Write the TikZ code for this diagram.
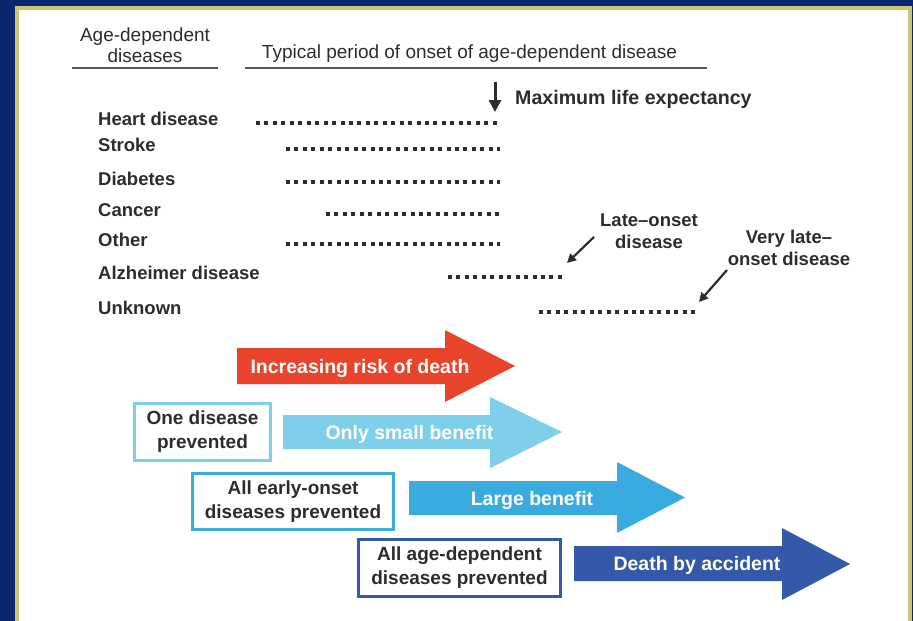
\documentclass[tikz,border=0pt]{standalone}
\usepackage{fontspec}
\setmainfont{Liberation Sans}
\usepackage{xcolor}
\usepackage{tikz}
\usetikzlibrary{arrows.meta,positioning,calc}
\definecolor{slidenavy}{RGB}{12,38,112}
\definecolor{slideframe}{RGB}{200,200,110}
\definecolor{riskred}{RGB}{232,67,43}
\definecolor{benlight}{RGB}{126,207,234}
\definecolor{benmid}{RGB}{58,171,223}
\definecolor{bendark}{RGB}{52,89,168}
\definecolor{txtgray}{RGB}{45,45,45}
\definecolor{rulegray}{RGB}{90,90,90}
\tikzset{
  dhead/.style={font=\fontsize{19}{21}\selectfont, text=txtgray, align=center, inner sep=0pt},
  dlabel/.style={font=\bfseries\fontsize{18.5}{22}\selectfont, text=txtgray, anchor=base west, inner sep=0pt},
  dnote/.style={font=\bfseries\fontsize{18.5}{22}\selectfont, text=txtgray, align=center, inner sep=0pt},
  dcase/.style={draw, line width=3pt, fill=white, align=center, inner sep=0pt, font=\bfseries\fontsize{19}{24}\selectfont, text=txtgray},
  dbandtext/.style={font=\bfseries\fontsize{19.5}{22}\selectfont, text=white, anchor=base, inner sep=0pt},
  donset/.style={draw=txtgray, line width=4pt, dash pattern=on 4pt off 4.45pt},
  drule/.style={draw=rulegray, line width=2.5pt},
  dpoint/.style={-{Triangle[length=9pt,width=9pt]}, draw=txtgray, line width=2.2pt},
  dmax/.style={-{Triangle[length=12pt,width=12pt]}, draw=txtgray, line width=3pt}
}
\begin{document}
\begin{tikzpicture}[x=1pt,y=-1pt]
% slide background and frame
\fill[slidenavy] (0,0) rectangle (913,621);
\fill[slideframe] (15,6) rectangle (912,621);
\fill[white] (19,10) rectangle (908,621);
\useasboundingbox (0,0) rectangle (913,621);

% headers
\node[dhead] (agehdr) at (145,45) {Age-dependent\\diseases};
\node[dhead, anchor=base] (onsethdr) at (469.5,58) {Typical period of onset of age-dependent disease};
\draw[drule] (72,68) -- (218,68);
\draw[drule] (245,68) -- (707,68);

% maximum life expectancy
\node[dnote, font=\bfseries\fontsize{19.6}{22}\selectfont, anchor=base west] (maxlife) at (515,104) {Maximum life expectancy};
\coordinate (maxtop) at (495,82);
\coordinate (maxtip) at (495,112);
\draw[dmax] (maxtop) -- (maxtip);

% diseases and their onset periods
\node[dlabel] (heart) at (98,125) {Heart disease};
\node[dlabel] (stroke) at (98,151.5) {Stroke};
\node[dlabel] (diabetes) at (98,185.5) {Diabetes};
\node[dlabel] (cancer) at (98,216) {Cancer};
\node[dlabel] (other) at (98,246) {Other};
\node[dlabel] (alzheimer) at (98,279) {Alzheimer disease};
\node[dlabel] (unknown) at (98,314) {Unknown};

\coordinate (heartA) at (256,123);      \coordinate (heartB) at (497,123);
\coordinate (strokeA) at (286,149);     \coordinate (strokeB) at (499.5,149);
\coordinate (diabetesA) at (286,182);   \coordinate (diabetesB) at (499.5,182);
\coordinate (cancerA) at (326,214);     \coordinate (cancerB) at (499,214);
\coordinate (otherA) at (286,244);      \coordinate (otherB) at (499.5,244);
\coordinate (alzA) at (448,277);        \coordinate (alzB) at (561.5,277);
\coordinate (unknownA) at (539,312);    \coordinate (unknownB) at (695,312);
\draw[donset] (heartA) -- (heartB);
\draw[donset] (strokeA) -- (strokeB);
\draw[donset] (diabetesA) -- (diabetesB);
\draw[donset] (cancerA) -- (cancerB);
\draw[donset] (otherA) -- (otherB);
\draw[donset] (alzA) -- (alzB);
\draw[donset] (unknownA) -- (unknownB);

% late onset notes
\node[dnote] (late) at (649,231) {Late–onset\\disease};
\node[dnote] (verylate) at (789,248) {Very late–\\onset disease};
\coordinate (lateFrom) at (594,237);
\coordinate (lateTo) at (567,263);
\coordinate (verylateFrom) at (727,270);
\coordinate (verylateTo) at (699,302);
\draw[dpoint] (lateFrom) -- (lateTo);
\draw[dpoint] (verylateFrom) -- (verylateTo);

% block arrows
\fill[riskred] (237,348) -- (445,348) -- (445,330) -- (515,366) -- (445,402) -- (445,384) -- (237,384) -- cycle;
\fill[benlight] (283,415) -- (490,415) -- (490,397) -- (562,432) -- (490,468) -- (490,449) -- (283,449) -- cycle;
\fill[benmid] (409,481) -- (617,481) -- (617,462) -- (685,497.5) -- (617,533) -- (617,515) -- (409,515) -- cycle;
\fill[bendark] (574,546) -- (782,546) -- (782,528) -- (850,564) -- (782,600) -- (782,581) -- (574,581) -- cycle;
\node[dbandtext] (risk) at (360,373) {Increasing risk of death};
\node[dbandtext] (small) at (409.5,439.5) {Only small benefit};
\node[dbandtext] (large) at (532,505) {Large benefit};
\node[dbandtext] (accident) at (697,570.5) {Death by accident};

% prevention cases
\node[dcase, draw=benlight, minimum width=136pt, minimum height=57pt] (onecase) at (202.5,432) {One disease\\prevented};
\node[dcase, draw=benmid, minimum width=201pt, minimum height=56pt] (earlycase) at (293,501.5) {All early-onset\\diseases prevented};
\node[dcase, draw=bendark, minimum width=202pt, minimum height=57pt] (allcase) at (459.5,568) {All age-dependent\\diseases prevented};
\end{tikzpicture}
\end{document}
